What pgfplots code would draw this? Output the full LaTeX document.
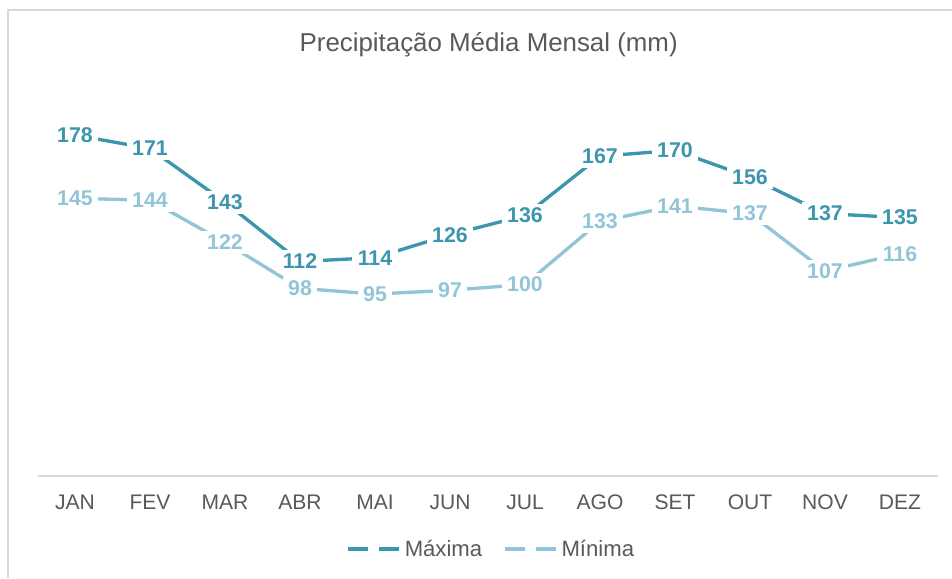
\documentclass[border=0pt]{standalone}
\usepackage{fontspec}
\setmainfont{Liberation Sans}
\usepackage{pgfplots}
\pgfplotsset{compat=1.18}
\definecolor{maxc}{HTML}{3C96AD}
\definecolor{minc}{HTML}{92C5D7}
\definecolor{txt}{HTML}{595959}
\definecolor{grid}{HTML}{D9D9D9}
\begin{document}
\begin{tikzpicture}
\useasboundingbox (0,0) rectangle (714pt,433.5pt);
\draw[grid, line width=1.2pt] (6pt,0) -- (6pt,426pt) -- (714pt,426pt);
\node[txt, font=\fontsize{19.4}{22}\selectfont] at (366.5pt,399.75pt) {Precipitação Média Mensal (mm)};
\begin{axis}[
  at={(28.125pt,76.5pt)}, anchor=south west,
  scale only axis, width=675pt, height=287.25pt,
  xmin=-0.5, xmax=11.5, ymin=0, ymax=200,
  axis line style={draw=none},
  axis x line*=bottom,
  hide y axis,
  xtick={0,...,11},
  xticklabels={JAN,FEV,MAR,ABR,MAI,JUN,JUL,AGO,SET,OUT,NOV,DEZ},
  major tick length=0pt,
  xticklabel style={anchor=center, yshift=-19.5pt, text=txt, font=\fontsize{15.8}{18}\selectfont},
  /pgf/number format/assume math mode=true,
  clip=false,
  legend style={draw=none, at={(0.504,-0.1906)}, anchor=center, legend columns=2,
    font=\fontsize{16.6}{19}\selectfont, text=txt,
    /tikz/every even column/.append style={column sep=15pt},
    nodes={inner xsep=1pt}},
  legend image code/.code={\draw[#1, dash pattern=on 15pt off 8pt] (0pt,0pt) -- (40pt,0pt);},
]
\draw[grid, line width=1.2pt] (axis cs:-0.5,0) -- (axis cs:11.5,0);
\addplot[maxc, line width=2.5pt] coordinates {(0,178) (1,171) (2,143) (3,112) (4,114) (5,126) (6,136) (7,167) (8,170) (9,156) (10,137) (11,135)};
\addlegendentry{Máxima}
\addplot[minc, line width=2.5pt] coordinates {(0,145) (1,144) (2,122) (3,98) (4,95) (5,97) (6,100) (7,133) (8,141) (9,137) (10,107) (11,116)};
\addlegendentry{Mínima}
\addplot[draw=none, forget plot, nodes near coords, point meta=explicit,
  nodes near coords style={anchor=center, fill=white, inner xsep=4pt, inner ysep=3pt, text=maxc, font=\fontsize{16}{18}\selectfont\bfseries}]
  coordinates {(0,178)[178] (1,171)[171] (2,143)[143] (3,112)[112] (4,114)[114] (5,126)[126] (6,136)[136] (7,167)[167] (8,170)[170] (9,156)[156] (10,137)[137] (11,135)[135]};
\addplot[draw=none, forget plot, nodes near coords, point meta=explicit,
  nodes near coords style={anchor=center, fill=white, inner xsep=4pt, inner ysep=3pt, text=minc, font=\fontsize{16}{18}\selectfont\bfseries}]
  coordinates {(0,145)[145] (1,144)[144] (2,122)[122] (3,98)[98] (4,95)[95] (5,97)[97] (6,100)[100] (7,133)[133] (8,141)[141] (9,137)[137] (10,107)[107] (11,116)[116]};
\end{axis}
\end{tikzpicture}
\end{document}
